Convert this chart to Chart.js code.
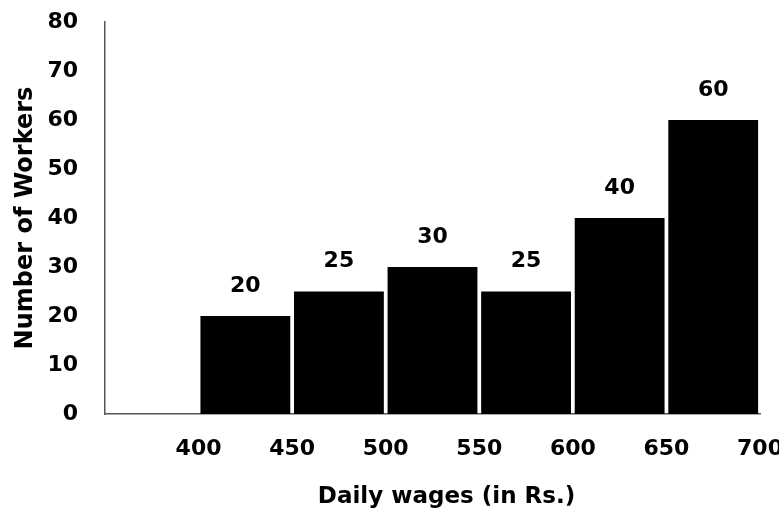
<!DOCTYPE html>
<html>
<head>
<meta charset="utf-8">
<script src="https://cdn.jsdelivr.net/npm/chart.js@4"></script>
<style>
html,body{margin:0;padding:0;background:#fff;}
#wrap{width:779px;height:515px;}
</style>
</head>
<body>
<div id="wrap"><canvas id="c" width="779" height="515"></canvas></div>
<script>
// Data
const binLower = [400, 450, 500, 550, 600, 650];
const binUpper = [450, 500, 550, 600, 650, 700];
const workers  = [20, 25, 30, 25, 40, 60];
const xTickValues = [350, 400, 450, 500, 550, 600, 650, 700];
const yTickValues = [0, 10, 20, 30, 40, 50, 60, 70, 80];
const xTitle = 'Daily wages (in Rs.)';
const yTitle = 'Number of Workers';

const FONT = "'DejaVu Sans', 'Open Sans', sans-serif";

const points = binLower.map((lo, i) => ({ x: (lo + binUpper[i]) / 2, y: workers[i] }));

const valueLabels = {
  id: 'valueLabels',
  afterDatasetsDraw(chart) {
    const ctx = chart.ctx;
    const meta = chart.getDatasetMeta(0);
    ctx.save();
    ctx.fillStyle = '#000';
    ctx.font = "bold 22px " + FONT;
    ctx.textAlign = 'center';
    ctx.textBaseline = 'middle';
    meta.data.forEach((bar, i) => {
      ctx.fillText(String(workers[i]), bar.x, bar.y - 30);
    });
    // x axis title
    const ca = chart.chartArea;
    ctx.font = "bold 23px " + FONT;
    ctx.fillText(xTitle, (ca.left + ca.right) / 2 + 14, 497);
    ctx.restore();
  }
};

new Chart(document.getElementById('c'), {
  type: 'bar',
  data: {
    datasets: [{
      data: points,
      backgroundColor: '#000',
      borderWidth: 0,
      barPercentage: 0.96,
      categoryPercentage: 1.0
    }]
  },
  options: {
    responsive: false,
    animation: false,
    devicePixelRatio: 1,
    layout: { padding: { top: 22, right: 19, left: 0, bottom: 0 } },
    plugins: { legend: { display: false }, tooltip: { enabled: false } },
    scales: {
      x: {
        type: 'linear',
        offset: false,
        min: 350,
        max: 700,
        afterBuildTicks(s) { s.ticks = xTickValues.map(v => ({ value: v })); },
        afterFit(s) { s.height = 101; s.paddingLeft = 0; s.paddingRight = 0; },
        grid: { display: false, drawTicks: false },
        border: { display: true, color: '#555', width: 1.5 },
        ticks: {
          padding: 22,
          maxRotation: 0,
          autoSkip: false,
          color: '#000',
          font: { family: FONT, size: 22, weight: 'bold' },
          callback: v => (v === 350 ? '' : String(v))
        },
        title: { display: false }
      },
      y: {
        min: 0,
        max: 80,
        afterBuildTicks(s) { s.ticks = yTickValues.map(v => ({ value: v })); },
        afterFit(s) { s.width = 105; s.paddingTop = 0; s.paddingBottom = 0; },
        grid: { display: false, drawTicks: false },
        border: { display: true, color: '#555', width: 1.5 },
        ticks: {
          padding: 27,
          color: '#000',
          font: { family: FONT, size: 22, weight: 'bold' }
        },
        title: {
          display: true,
          text: yTitle,
          color: '#000',
          font: { family: FONT, size: 24, weight: 'bold' },
          padding: { top: 11, bottom: 0 }
        }
      }
    }
  },
  plugins: [valueLabels]
});
</script>
</body>
</html>
